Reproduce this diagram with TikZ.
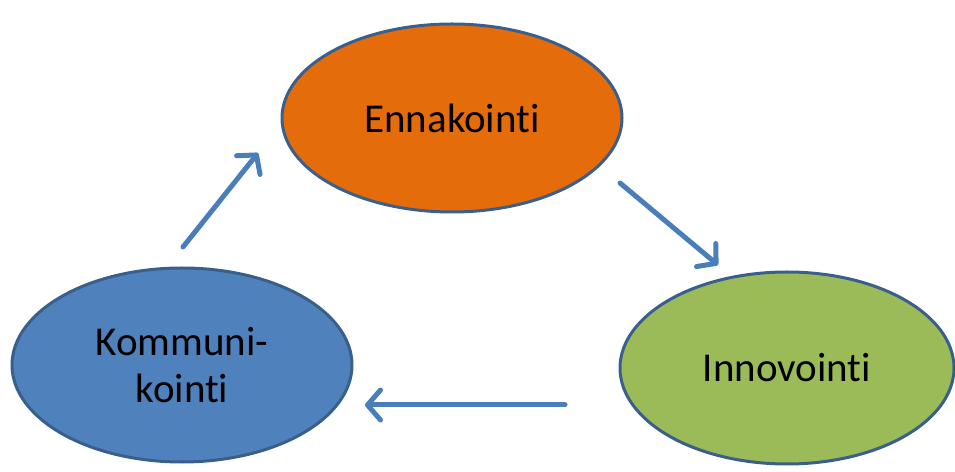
\documentclass[tikz,border=0pt]{standalone}
\usepackage{fontspec}
\setmainfont[RawFeature={-liga;-dlig;-clig}]{Carlito}
\usetikzlibrary{shapes.geometric,arrows.meta}
\definecolor{edgeblue}{HTML}{3A5F8B}
\definecolor{orangefill}{HTML}{E46C0A}
\definecolor{bluefill}{HTML}{4F81BD}
\definecolor{greenfill}{HTML}{9BBB59}
\definecolor{arrowblue}{HTML}{4A7EBB}
\tikzset{
  blob/.style={ellipse, draw=edgeblue, line width=3pt, inner sep=0pt,
    font=\fontsize{41}{47}\selectfont, align=center, text=black},
  flow/.style={draw=arrowblue, line width=5pt, line cap=round,
    -{Straight Barb[length=13pt,width=30pt,line cap=round,line join=round]}}
}
\begin{document}
\begin{tikzpicture}[x=1pt,y=1pt]
\useasboundingbox (0,0) rectangle (955,471);
\node[blob, fill=orangefill, minimum width=340pt, minimum height=188pt] (enn) at (452,353) {Ennakointi};
\node[blob, fill=bluefill, minimum width=340pt, minimum height=194pt] (kom) at (182,106) {Kommuni-\\kointi};
\node[blob, fill=greenfill, minimum width=334pt, minimum height=192pt] (inn) at (787,103) {Innovointi};
\coordinate (a1s) at (183,224);
\coordinate (a1e) at (258,318);
\coordinate (a2s) at (620,288);
\coordinate (a2e) at (718,206);
\coordinate (a3s) at (565,66);
\coordinate (a3e) at (365,66);
\draw[flow] (a1s) -- (a1e);
\draw[flow] (a2s) -- (a2e);
\draw[flow] (a3s) -- (a3e);
\end{tikzpicture}
\end{document}
